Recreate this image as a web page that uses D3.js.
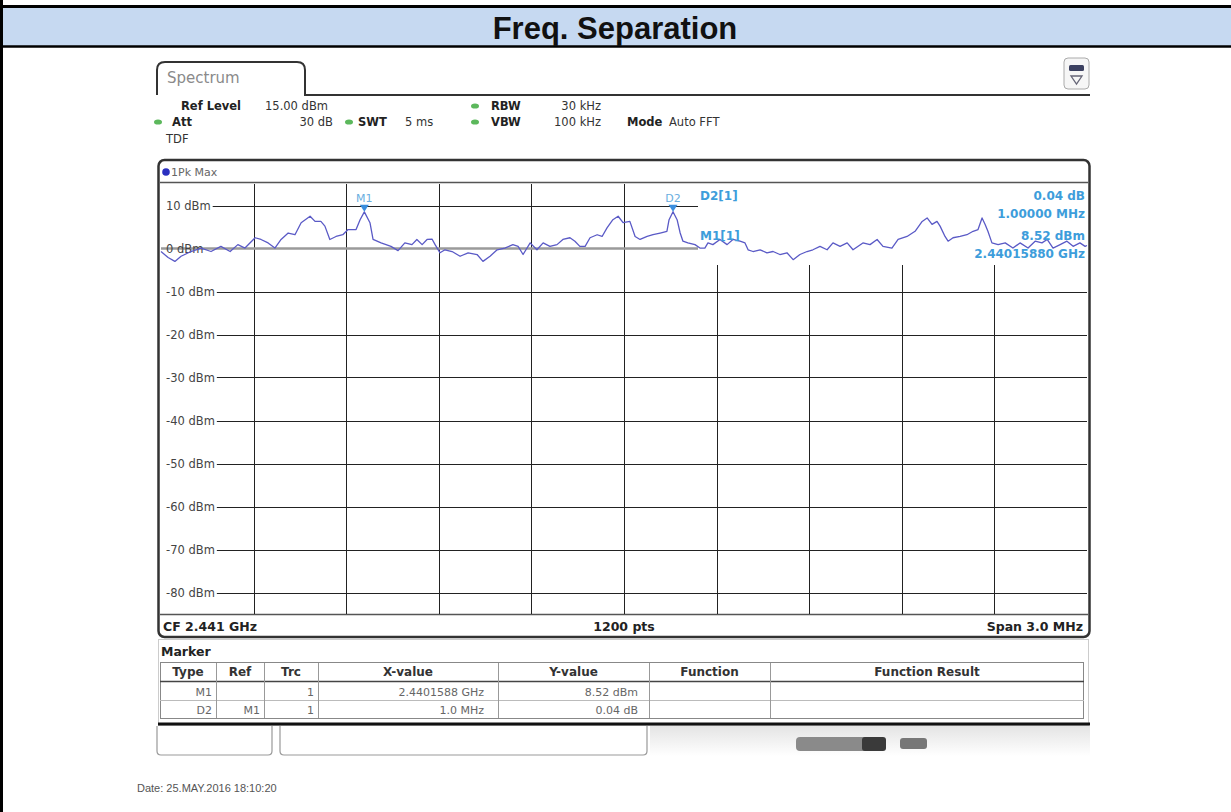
<!DOCTYPE html>
<html lang="en">
<head>
<meta charset="UTF-8">
<title>Freq. Separation</title>
<script src="https://d3js.org/d3.v7.min.js"></script>
<style>
  body { margin: 0; background: #fff; }
  .scr { font-family: 'DejaVu Sans', Verdana, sans-serif; }
  .lbl { font-family: 'DejaVu Sans', Verdana, sans-serif; font-size: 11.5px; fill: #333; }
  .lbl.b { font-weight: bold; fill: #222; }
  .grid line { stroke: #222; stroke-width: 1; }
  .ytick { font-family: 'DejaVu Sans', Verdana, sans-serif; font-size: 11.5px; fill: #444; }
  .mk { font-family: 'DejaVu Sans', Verdana, sans-serif; font-size: 12px; fill: #3d9ddb; font-weight: bold; }
</style>
</head>
<body>
<script>
// trace: [frequency MHz, level dBm]
const trace = [
  [2439.500, -0.7], [2439.523, -2.1], [2439.545, -3.0], [2439.565, -1.8], [2439.597, -0.7],
  [2439.630, 0.1], [2439.662, -0.7], [2439.694, 0.5], [2439.724, -0.7], [2439.749, 0.9],
  [2439.772, 0.1], [2439.805, 2.5], [2439.824, 2.1], [2439.847, 1.3], [2439.869, 0.1],
  [2439.889, 2.1], [2439.912, 3.6], [2439.934, 3.2], [2439.954, 6.0], [2439.983, 7.5],
  [2439.999, 6.3], [2440.018, 6.3], [2440.031, 5.2], [2440.047, 2.1], [2440.067, 2.8],
  [2440.089, 3.2], [2440.106, 4.4], [2440.132, 4.4], [2440.145, 6.7], [2440.1588, 8.52],
  [2440.177, 6.0], [2440.187, 2.1], [2440.213, 1.3], [2440.245, 0.5], [2440.268, -0.5],
  [2440.290, 1.3], [2440.313, 0.9], [2440.329, 2.1], [2440.346, 0.9], [2440.362, 2.1],
  [2440.378, 2.2], [2440.388, 0.9], [2440.404, -1.0], [2440.420, -0.3], [2440.443, -0.7],
  [2440.469, -1.8], [2440.495, -1.0], [2440.524, -1.4], [2440.543, -3.0], [2440.566, -1.8],
  [2440.589, -0.3], [2440.614, 0.1], [2440.640, 0.9], [2440.657, 0.5], [2440.673, -1.4],
  [2440.696, 1.3], [2440.718, -0.3], [2440.738, 1.3], [2440.760, 0.5], [2440.783, 0.9],
  [2440.802, 2.1], [2440.825, 2.5], [2440.841, 1.7], [2440.857, 0.5], [2440.874, 0.5],
  [2440.890, 2.5], [2440.913, 3.2], [2440.929, 2.8], [2440.945, 4.8], [2440.964, 6.7],
  [2440.981, 7.5], [2440.997, 6.0], [2441.019, 6.3], [2441.036, 2.8], [2441.052, 2.1],
  [2441.075, 2.8], [2441.094, 3.2], [2441.117, 3.6], [2441.139, 4.0], [2441.146, 6.7],
  [2441.1588, 8.56], [2441.172, 6.7], [2441.182, 3.6], [2441.191, 1.7], [2441.207, 1.3],
  [2441.230, 0.9], [2441.246, 0.1], [2441.262, 0.1], [2441.272, 1.3], [2441.288, 0.9],
  [2441.311, 2.1], [2441.334, 0.9], [2441.353, 2.1], [2441.376, 1.7], [2441.392, 1.3],
  [2441.402, -0.3], [2441.418, -0.7], [2441.441, -0.3], [2441.463, -1.0], [2441.483, -0.7],
  [2441.505, -1.4], [2441.528, -1.0], [2441.548, -2.6], [2441.570, -1.4], [2441.593, -0.7],
  [2441.612, -0.3], [2441.635, 0.5], [2441.658, -0.3], [2441.677, 1.3], [2441.700, 0.5],
  [2441.723, 1.3], [2441.742, -0.3], [2441.774, 1.3], [2441.797, 0.9], [2441.820, 2.1],
  [2441.839, 0.5], [2441.868, 0.1], [2441.888, 2.1], [2441.917, 2.8], [2441.943, 4.0],
  [2441.966, 6.3], [2441.982, 7.1], [2441.998, 5.6], [2442.014, 6.3], [2442.024, 5.2],
  [2442.040, 2.8], [2442.050, 1.7], [2442.066, 2.5], [2442.089, 2.8], [2442.111, 3.2],
  [2442.131, 4.0], [2442.147, 4.4], [2442.160, 7.1], [2442.170, 5.6], [2442.179, 4.0],
  [2442.192, 1.3], [2442.212, 0.9], [2442.235, 1.3], [2442.260, 0.1], [2442.283, 1.3],
  [2442.309, 0.1], [2442.332, 1.7], [2442.354, 1.3], [2442.371, 2.1], [2442.390, 0.1],
  [2442.413, 0.9], [2442.435, 1.7], [2442.455, 0.5], [2442.477, 1.3], [2442.494, 0.5],
  [2442.500, 0.7]
];

const markerNames = ['M1', 'D2'];
const markerFreqMHz = [2440.1588, 2441.1588];
const markerLevelDbm = [8.52, 8.56];

const levelTicks = [10, 0, -10, -20, -30, -40, -50, -60, -70, -80];
const freqGridMHz = [2439.8, 2440.1, 2440.4, 2440.7, 2441.0, 2441.3, 2441.6, 2441.9, 2442.2];

const deltaReadout = ['D2[1]', '0.04 dB', '1.00000 MHz'];
const refReadout = ['M1[1]', '8.52 dBm', '2.44015880 GHz'];

const tableHeader = ['Type', 'Ref', 'Trc', 'X-value', 'Y-value', 'Function', 'Function Result'];
const tableRows = [
  ['M1', '', '1', '2.4401588 GHz', '8.52 dBm', '', ''],
  ['D2', 'M1', '1', '1.0 MHz', '0.04 dB', '', '']
];

const W = 1231, H = 812;
const svg = d3.select('body').append('svg').attr('width', W).attr('height', H);

// ---- document frame + title band
svg.append('rect').attr('x', 0).attr('y', 8).attr('width', W).attr('height', 38).attr('fill', '#c6d9f1');
svg.append('line').attr('x1', 0).attr('x2', W).attr('y1', 6.5).attr('y2', 6.5).attr('stroke', '#000').attr('stroke-width', 3);
svg.append('line').attr('x1', 0).attr('x2', W).attr('y1', 46.5).attr('y2', 46.5).attr('stroke', '#000').attr('stroke-width', 2.5);
svg.append('line').attr('x1', 1.5).attr('x2', 1.5).attr('y1', 0).attr('y2', H).attr('stroke', '#000').attr('stroke-width', 3);
svg.append('text').attr('x', 615).attr('y', 39).attr('text-anchor', 'middle')
  .attr('font-family', "'Liberation Sans', Arial, sans-serif").attr('font-weight', 'bold')
  .attr('font-size', 31).attr('fill', '#111').text('Freq. Separation');

// ---- analyzer screen: tab
svg.append('path')
  .attr('d', 'M157,95 L157,70 Q157,62 165,62 L297,62 Q305,62 305,70 L305,95 L1090,95')
  .attr('fill', 'none').attr('stroke', '#333').attr('stroke-width', 2);
svg.append('text').attr('class', 'scr').attr('x', 167).attr('y', 83).attr('font-size', 15).attr('fill', '#8a8a8a').text('Spectrum');

// little menu icon top right
svg.append('rect').attr('x', 1064).attr('y', 58).attr('width', 25).attr('height', 31).attr('rx', 4)
  .attr('fill', '#f6f6f6').attr('stroke', '#aaa');
svg.append('rect').attr('x', 1069).attr('y', 65).attr('width', 15).attr('height', 6).attr('rx', 1.5).attr('fill', '#3b4060');
svg.append('path').attr('d', 'M1071,76 L1082,76 L1076.5,84 Z').attr('fill', 'none').attr('stroke', '#667').attr('stroke-width', 1.3);

// settings lines
const setup = svg.append('g');
const txt = (x, y, s, bold, anchor) => setup.append('text').attr('class', bold ? 'lbl b' : 'lbl')
  .attr('x', x).attr('y', y).attr('text-anchor', anchor || 'start').text(s);
const dot = (x, y) => setup.append('ellipse').attr('cx', x).attr('cy', y).attr('rx', 4).attr('ry', 2.6).attr('fill', '#5cb85c');
txt(181, 110, 'Ref Level', true); txt(265, 110, '15.00 dBm');
dot(475, 106); txt(491, 110, 'RBW', true); txt(601, 110, '30 kHz', false, 'end');
dot(158, 122); txt(172, 126, 'Att', true); txt(333, 126, '30 dB', false, 'end');
dot(349, 122); txt(358, 126, 'SWT', true); txt(405, 126, '5 ms');
dot(475, 122); txt(491, 126, 'VBW', true); txt(601, 126, '100 kHz', false, 'end');
txt(627, 126, 'Mode', true); txt(669, 126, 'Auto FFT');
txt(166, 143, 'TDF');

// ---- diagram frame
const frame = { left: 158.5, top: 160, right: 1089.5, bottom: 637 };
svg.append('rect').attr('x', frame.left).attr('y', frame.top)
  .attr('width', frame.right - frame.left).attr('height', frame.bottom - frame.top).attr('rx', 6)
  .attr('fill', '#fff').attr('stroke', '#333').attr('stroke-width', 2.5);
svg.append('line').attr('x1', 160).attr('x2', 1088).attr('y1', 182.5).attr('y2', 182.5).attr('stroke', '#555').attr('stroke-width', 1.5);
svg.append('line').attr('x1', 160).attr('x2', 1088).attr('y1', 614.5).attr('y2', 614.5).attr('stroke', '#555').attr('stroke-width', 1.5);
svg.append('circle').attr('cx', 166).attr('cy', 172).attr('r', 3.8).attr('fill', '#2a2fc0');
svg.append('text').attr('class', 'scr').attr('x', 171).attr('y', 176).attr('font-size', 11).attr('fill', '#666').text('1Pk Max');

const plot = { left: 161, right: 1087, top: 184, bottom: 614 };
const x = d3.scaleLinear().domain([2439.5, 2442.5]).range([plot.left, plot.right]);
const y = d3.scaleLinear().domain([-85, 15]).range([plot.bottom, plot.top]);

// grid
const grid = svg.append('g').attr('class', 'grid');
const boxLeft = 698, boxBottom = 265;
grid.selectAll('.v').data(freqGridMHz).join('line')
  .attr('x1', d => Math.round(x(d)) + 0.5).attr('x2', d => Math.round(x(d)) + 0.5)
  .attr('y1', d => x(d) > boxLeft ? boxBottom : plot.top).attr('y2', plot.bottom);
grid.selectAll('.h').data(levelTicks.filter(d => d !== 0)).join('line')
  .attr('x1', plot.left).attr('x2', d => y(d) < boxBottom ? boxLeft : plot.right)
  .attr('y1', d => Math.round(y(d)) + 0.5).attr('y2', d => Math.round(y(d)) + 0.5);
// display line at 0 dBm (grey)
svg.append('line').attr('x1', plot.left).attr('x2', boxLeft)
  .attr('y1', y(0)).attr('y2', y(0)).attr('stroke', '#9a9a9a').attr('stroke-width', 2.5);

// level labels with white backing
const yl = svg.append('g');
levelTicks.forEach(v => {
  const t = yl.append('text').attr('class', 'ytick').attr('x', 166).attr('y', y(v) + 4).text(v + ' dBm');
  const bb = t.node().getBBox();
  if (v !== 0) {
    yl.insert('rect', 'text').attr('x', plot.left).attr('y', y(v) - 2)
      .attr('width', bb.x + bb.width + 2 - plot.left).attr('height', 4).attr('fill', '#fff');
  }
});

// trace
const line = d3.line().x(d => x(d[0])).y(d => y(d[1]));
svg.append('path').datum(trace).attr('d', line)
  .attr('fill', 'none').attr('stroke', '#5a5ac6').attr('stroke-width', 1.3).attr('stroke-linejoin', 'round');

// markers
markerNames.forEach((name, i) => {
  const mx = x(markerFreqMHz[i]), my = y(markerLevelDbm[i]);
  svg.append('path').attr('d', `M${mx - 4.5},${my - 7} L${mx + 4.5},${my - 7} L${mx},${my} Z`).attr('fill', '#3a8ede');
  svg.append('text').attr('class', 'scr').attr('x', mx).attr('y', my - 10).attr('text-anchor', 'middle')
    .attr('font-size', 11).attr('fill', '#6aaee0').text(name);
});

// marker readout
const mk = svg.append('g');
mk.append('text').attr('class', 'mk').attr('x', 700).attr('y', 200).text(deltaReadout[0]);
mk.append('text').attr('class', 'mk').attr('x', 1085).attr('y', 200).attr('text-anchor', 'end').text(deltaReadout[1]);
mk.append('text').attr('class', 'mk').attr('x', 1085).attr('y', 218).attr('text-anchor', 'end').text(deltaReadout[2]);
mk.append('text').attr('class', 'mk').attr('x', 700).attr('y', 240).text(refReadout[0]);
mk.append('text').attr('class', 'mk').attr('x', 1085).attr('y', 240).attr('text-anchor', 'end').text(refReadout[1]);
mk.append('text').attr('class', 'mk').attr('x', 1085).attr('y', 258).attr('text-anchor', 'end').text(refReadout[2]);

// footer of diagram
const foot = svg.append('g').attr('class', 'scr').attr('font-size', 12.5).attr('font-weight', 'bold').attr('fill', '#222');
foot.append('text').attr('x', 163).attr('y', 631).text('CF 2.441 GHz');
foot.append('text').attr('x', 624).attr('y', 631).attr('text-anchor', 'middle').text('1200 pts');
foot.append('text').attr('x', 1083).attr('y', 631).attr('text-anchor', 'end').text('Span 3.0 MHz');

// ---- marker table
svg.append('rect').attr('x', 158.5).attr('y', 639.5).attr('width', 930).attr('height', 86).attr('fill', '#fff').attr('stroke', '#ccc');
svg.append('text').attr('class', 'scr').attr('x', 161).attr('y', 656).attr('font-size', 12.5).attr('font-weight', 'bold').attr('fill', '#222').text('Marker');
const colEdges = [160, 216, 264, 318, 498, 649, 770, 1084];
const tbl = svg.append('g');
tbl.append('rect').attr('x', 160.5).attr('y', 662.5).attr('width', 923).attr('height', 56).attr('fill', 'none').attr('stroke', '#888');
tbl.append('line').attr('x1', 160).attr('x2', 1084).attr('y1', 681.5).attr('y2', 681.5).attr('stroke', '#444').attr('stroke-width', 1.5);
tbl.append('line').attr('x1', 160).attr('x2', 1084).attr('y1', 700.5).attr('y2', 700.5).attr('stroke', '#bbb');
colEdges.slice(1, -1).forEach(cx => {
  tbl.append('line').attr('x1', cx + 0.5).attr('x2', cx + 0.5).attr('y1', 663).attr('y2', 718).attr('stroke', '#999');
});
tableHeader.forEach((h, i) => {
  tbl.append('text').attr('class', 'scr').attr('x', (colEdges[i] + colEdges[i + 1]) / 2).attr('y', 676)
    .attr('text-anchor', 'middle').attr('font-size', 12).attr('font-weight', 'bold').attr('fill', '#333').text(h);
});
const rowBase = [696, 714];
const rightPad = [4, 4, 4, 14, 11, 4, 4];
tableRows.forEach((row, r) => {
  row.forEach((cell, i) => {
    if (!cell) return;
    tbl.append('text').attr('class', 'scr').attr('x', colEdges[i + 1] - rightPad[i]).attr('y', rowBase[r])
      .attr('text-anchor', 'end').attr('font-size', 11).attr('fill', '#666').text(cell);
  });
});
svg.append('line').attr('x1', 158).attr('x2', 1090).attr('y1', 724).attr('y2', 724).attr('stroke', '#111').attr('stroke-width', 3);

// ---- status bar
const grad = svg.append('defs').append('linearGradient').attr('id', 'sb').attr('x1', 0).attr('x2', 0).attr('y1', 0).attr('y2', 1);
grad.append('stop').attr('offset', 0).attr('stop-color', '#e4e4e4');
grad.append('stop').attr('offset', 1).attr('stop-color', '#fff');
svg.append('rect').attr('x', 650).attr('y', 726).attr('width', 440).attr('height', 30).attr('fill', 'url(#sb)');
svg.append('path').attr('d', 'M157,726 L157,751 Q157,755 161,755 L268,755 Q272,755 272,751 L272,726')
  .attr('fill', '#fff').attr('stroke', '#999').attr('stroke-width', 1.2);
svg.append('path').attr('d', 'M280,726 L280,751 Q280,755 284,755 L643,755 Q647,755 647,751 L647,726')
  .attr('fill', '#fff').attr('stroke', '#999').attr('stroke-width', 1.2);
svg.append('rect').attr('x', 796).attr('y', 737).attr('width', 76).attr('height', 14).attr('rx', 4).attr('fill', '#8a8a8a');
svg.append('rect').attr('x', 862).attr('y', 737).attr('width', 24).attr('height', 14).attr('rx', 3).attr('fill', '#3a3a3a');
svg.append('rect').attr('x', 900).attr('y', 738).attr('width', 27).attr('height', 11).attr('rx', 3).attr('fill', '#777');

// ---- date
svg.append('text').attr('x', 137).attr('y', 792).attr('font-family', "'Liberation Sans', Arial, sans-serif")
  .attr('font-size', 11).attr('fill', '#555').text('Date: 25.MAY.2016  18:10:20');
</script>
</body>
</html>
